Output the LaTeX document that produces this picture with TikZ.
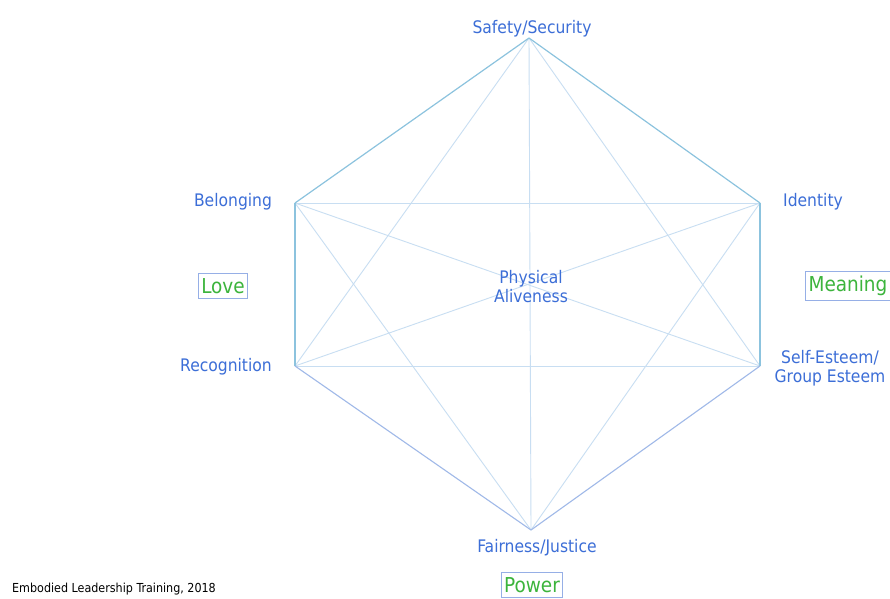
\documentclass[tikz,border=0pt]{standalone}
\usepackage{fontspec}
\setmainfont{DejaVu Sans Condensed}
\definecolor{lbl}{RGB}{60,110,215}
\definecolor{grn}{RGB}{60,180,60}
\definecolor{edgeA}{RGB}{140,195,222}
\definecolor{edgeB}{RGB}{160,185,232}
\definecolor{diag}{RGB}{200,222,242}
\definecolor{boxc}{RGB}{150,175,230}
\begin{document}
\begin{tikzpicture}[x=1pt,y=-1pt,
  lab/.style={text=lbl,font=\fontsize{17.3}{20}\selectfont,inner sep=0pt,align=center},
  need/.style={text=grn,draw=boxc,line width=0.9pt,font=\fontsize{20.5}{24}\selectfont,inner xsep=3pt,inner ysep=5pt},
  vtx/.style={coordinate},
  edgeup/.style={draw=edgeA,line width=1.2pt},
  edgelo/.style={draw=edgeB,line width=1.1pt},
  diagline/.style={draw=diag,line width=0.9pt}]
\useasboundingbox (0,0) rectangle (890,598);
\fill[white] (0,0) rectangle (890,598);
\node[vtx] (T) at (529,38) {};
\node[vtx] (UL) at (295,203) {};
\node[vtx] (LL) at (295,366) {};
\node[vtx] (B) at (531,530) {};
\node[vtx] (UR) at (760,203) {};
\node[vtx] (LR) at (760,366) {};
% diagonals
\draw[diagline] (T) -- (B);
\draw[diagline] (T) -- (LL);
\draw[diagline] (T) -- (LR);
\draw[diagline] (UL) -- (UR);
\draw[diagline] (LL) -- (LR);
\draw[diagline] (UL) -- (LR);
\draw[diagline] (LL) -- (UR);
\draw[diagline] (UL) -- (B);
\draw[diagline] (UR) -- (B);
% hexagon edges
\draw[edgeup] (T) -- (UR);
\draw[edgeup] (T) -- (UL);
\draw[edgeup] (UL) -- (LL);
\draw[edgeup] (UR) -- (LR);
\draw[edgelo] (LL) -- (B);
\draw[edgelo] (LR) -- (B);
% labels
\node[lab] (safety) at (532,29) {Safety/Security};
\node[lab] (belong) at (233,202) {Belonging};
\node[lab] (ident) at (813,202) {Identity};
\node[lab] (phys) at (531,287) {Physical\\[-1pt]Aliveness};
\node[lab] (recog) at (226,367) {Recognition};
\node[lab] (self) at (830,368) {Self-Esteem/\\[-1pt]Group Esteem};
\node[lab] (fair) at (537,548) {Fairness/Justice};
\node[need] (love) at (223,286) {Love};
\node[need] (meaning) at (848,286) {Meaning};
\node[need] (power) at (532,585) {Power};
\node[anchor=west,inner sep=0pt,font=\fontsize{12.4}{14}\selectfont] (foot) at (12,589) {Embodied Leadership Training, 2018};
\end{tikzpicture}
\end{document}
